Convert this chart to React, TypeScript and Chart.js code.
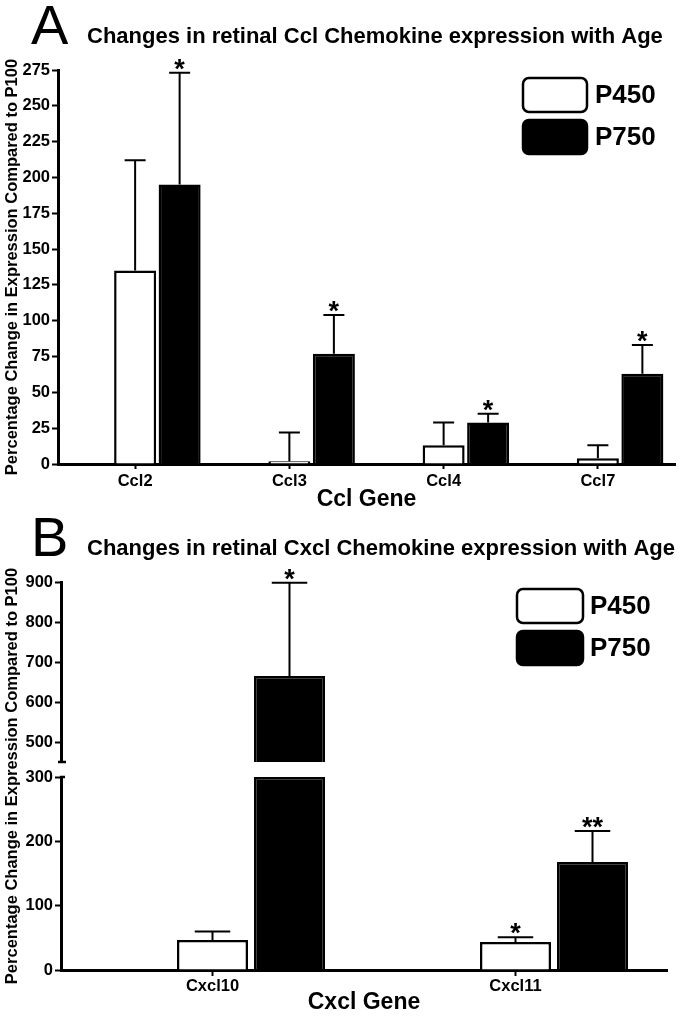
import React, { useEffect, useRef } from "react";
import { Chart, registerables } from "chart.js";
Chart.register(...registerables);

const FONT = '"Liberation Sans", Arial, Helvetica, sans-serif';

// ---------- Panel A data ----------
const cclGenes = ["Ccl2", "Ccl3", "Ccl4", "Ccl7"];
const cclP450 = [135, 2, 13, 4];
const cclP450ErrTop = [212, 22, 29, 13];
const cclP750 = [195, 77, 29, 63];
const cclP750ErrTop = [273, 104, 35, 83];
const cclP450Sig = ["", "", "", ""];
const cclP750Sig = ["*", "*", "*", "*"];
const cclYTicks = [0, 25, 50, 75, 100, 125, 150, 175, 200, 225, 250, 275];

// ---------- Panel B data ----------
const cxclGenes = ["Cxcl10", "Cxcl11"];
const cxclP450 = [46.5, 43.5];
const cxclP450ErrTop = [60, 51];
const cxclP750 = [665, 168];
const cxclP750ErrTop = [898, 216];
const cxclP450Sig = ["", "*"];
const cxclP750Sig = ["*", "**"];
const cxclLowTicks = [0, 100, 200, 300];
const cxclHighTicks = [500, 600, 700, 800, 900];
const cxclBreak = [300, 450];

const seriesNames = ["P450", "P750"];
const panelLetters = ["A", "B"];
const panelTitles = [
  "Changes in retinal Ccl Chemokine expression with Age",
  "Changes in retinal Cxcl Chemokine expression with Age",
];
const xTitles = ["Ccl Gene", "Cxcl Gene"];
const yTitle = "Percentage Change in Expression Compared to P100";

type Series = { datasetIndex: number; values: number[]; errs: number[]; sigs: string[] };

function makeDecor(cfg: {
  letter: string;
  title: string;
  xTitle: string;
  xTitleY: number;
  legendX: number;
  legendY: number;
  legendW: number;
  legendH: number;
  legendGap: number;
  legendTextX: number;
  series: Series[];
  toPixel: (chart: any, v: number) => number;
  extra?: (chart: any, ctx: CanvasRenderingContext2D) => void;
}) {
  return {
    id: "decor" + cfg.letter,
    afterDraw(chart: any) {
      const ctx: CanvasRenderingContext2D = chart.ctx;
      const ca = chart.chartArea;
      ctx.save();
      ctx.fillStyle = "#000";
      ctx.strokeStyle = "#000";
      // panel letter
      ctx.textAlign = "left";
      ctx.textBaseline = "alphabetic";
      ctx.font = `56px ${FONT}`;
      ctx.fillText(cfg.letter, 31, 44);
      // title
      ctx.font = `bold 22px ${FONT}`;
      ctx.fillText(cfg.title, 87, 43);
      // y title
      ctx.save();
      ctx.translate(12, (ca.top + ca.bottom) / 2);
      ctx.rotate(-Math.PI / 2);
      ctx.textAlign = "center";
      ctx.textBaseline = "middle";
      ctx.font = `bold 16.5px ${FONT}`;
      ctx.fillText(yTitle, 0, 0);
      ctx.restore();
      // x title
      ctx.textAlign = "center";
      ctx.textBaseline = "middle";
      ctx.font = `bold 23px ${FONT}`;
      ctx.fillText(cfg.xTitle, (ca.left + ca.right) / 2, cfg.xTitleY);
      // error bars + significance
      ctx.lineWidth = 2;
      for (const s of cfg.series) {
        const meta = chart.getDatasetMeta(s.datasetIndex);
        meta.data.forEach((el: any, i: number) => {
          const x = el.x;
          const w = el.width;
          const yv = cfg.toPixel(chart, s.values[i]);
          const ye = cfg.toPixel(chart, s.errs[i]);
          ctx.beginPath();
          ctx.moveTo(x, yv);
          ctx.lineTo(x, ye);
          ctx.moveTo(x - w / 4, ye);
          ctx.lineTo(x + w / 4, ye);
          ctx.stroke();
          if (s.sigs[i]) {
            ctx.textAlign = "center";
            ctx.textBaseline = "alphabetic";
            ctx.font = `bold 27px ${FONT}`;
            const m = ctx.measureText(s.sigs[i]);
            ctx.fillText(s.sigs[i], x, ye - 3 - m.actualBoundingBoxDescent);
          }
        });
      }
      // legend
      const fills = ["#fff", "#000"];
      ctx.lineWidth = 2.5;
      for (let k = 0; k < 2; k++) {
        const bx = cfg.legendX;
        const by = cfg.legendY + k * (cfg.legendH + cfg.legendGap);
        ctx.beginPath();
        (ctx as any).roundRect(bx, by, cfg.legendW, cfg.legendH, 6);
        ctx.fillStyle = fills[k];
        ctx.fill();
        ctx.stroke();
        ctx.fillStyle = "#000";
        ctx.textAlign = "left";
        ctx.textBaseline = "middle";
        ctx.font = `bold 26px ${FONT}`;
        ctx.fillText(chart.data.datasets[k + 1].label, cfg.legendTextX, by + cfg.legendH / 2 + 1);
      }
      if (cfg.extra) cfg.extra(chart, ctx);
      ctx.restore();
    },
  };
}

const tickFont = { family: FONT, size: 16.5, weight: "bold" as const };

function buildA(canvas: HTMLCanvasElement) {
  const decor = makeDecor({
    letter: panelLetters[0],
    title: panelTitles[0],
    xTitle: xTitles[0],
    xTitleY: 500,
    legendX: 523,
    legendY: 78,
    legendW: 64,
    legendH: 34,
    legendGap: 8,
    legendTextX: 595,
    series: [
      { datasetIndex: 1, values: cclP450, errs: cclP450ErrTop, sigs: cclP450Sig },
      { datasetIndex: 2, values: cclP750, errs: cclP750ErrTop, sigs: cclP750Sig },
    ],
    toPixel: (chart, v) => chart.scales.y.getPixelForValue(v),
  });
  return new Chart(canvas, {
    type: "bar",
    data: {
      labels: cclGenes,
      datasets: [
        { label: "", data: cclGenes.map(() => null), backgroundColor: "rgba(0,0,0,0)" },
        { label: seriesNames[0], data: cclP450, backgroundColor: "#fff", borderColor: "#000", borderWidth: 2.5 },
        { label: seriesNames[1], data: cclP750, backgroundColor: "#000", borderColor: "#000", borderWidth: 2.5 },
      ],
    },
    options: {
      responsive: false,
      animation: false,
      devicePixelRatio: 1,
      events: [],
      layout: { padding: { top: 70, right: 5, left: 0, bottom: 0 } },
      datasets: { bar: { categoryPercentage: 0.8655, barPercentage: 0.944 } },
      plugins: { legend: { display: false }, tooltip: { enabled: false }, title: { display: false } },
      scales: {
        x: {
          grid: { display: true, drawOnChartArea: false, offset: false, tickLength: 5, tickWidth: 2, tickColor: "#000" },
          border: { display: true, color: "#000", width: 3 },
          ticks: { color: "#000", font: tickFont, padding: 3, maxRotation: 0 },
          afterFit: (s: any) => { s.height = 48; },
        },
        y: {
          min: 0,
          max: 275,
          afterBuildTicks: (s: any) => { s.ticks = cclYTicks.map((v) => ({ value: v })); },
          grid: { drawOnChartArea: false, tickLength: 6, tickWidth: 2, tickColor: "#000" },
          border: { display: true, color: "#000", width: 3 },
          ticks: { color: "#000", font: tickFont, padding: 2 },
          afterFit: (s: any) => { s.width = 58; },
        },
      },
    } as any,
    plugins: [decor],
  });
}

function buildB(canvas: HTMLCanvasElement) {
  const decor = makeDecor({
    letter: panelLetters[1],
    title: panelTitles[1],
    xTitle: xTitles[1],
    xTitleY: 491,
    legendX: 517,
    legendY: 77,
    legendW: 66,
    legendH: 34,
    legendGap: 8,
    legendTextX: 590,
    series: [
      { datasetIndex: 1, values: cxclP450, errs: cxclP450ErrTop, sigs: cxclP450Sig },
      { datasetIndex: 2, values: cxclP750, errs: cxclP750ErrTop, sigs: cxclP750Sig },
    ],
    toPixel: (chart, v) =>
      v > cxclBreak[1]
        ? chart.scales.yHigh.getPixelForValue(v)
        : chart.scales.yLow.getPixelForValue(Math.min(v, cxclBreak[0])),
    extra: (chart, ctx) => {
      const ca = chart.chartArea;
      ctx.lineWidth = 2.5;
      ctx.beginPath();
      ctx.moveTo(ca.left - 3, chart.scales.yHigh.bottom);
      ctx.lineTo(ca.left + 5, chart.scales.yHigh.bottom);
      ctx.moveTo(ca.left - 1, chart.scales.yLow.top);
      ctx.lineTo(ca.left + 4, chart.scales.yLow.top);
      ctx.stroke();
    },
  });
  const yCommon = {
    type: "linear",
    position: "left",
    stack: "v",
    stacked: false,
    grid: { drawOnChartArea: false, tickLength: 6, tickWidth: 2, tickColor: "#000" },
    border: { display: true, color: "#000", width: 3 },
    ticks: { color: "#000", font: tickFont, padding: 2 },
    afterFit: (s: any) => { s.width = 61; },
  };
  return new Chart(canvas, {
    type: "bar",
    data: {
      labels: cxclGenes,
      datasets: [
        { label: "", data: cxclGenes.map(() => null), backgroundColor: "rgba(0,0,0,0)", yAxisID: "yLow" },
        { label: seriesNames[0], data: cxclP450, backgroundColor: "#fff", borderColor: "#000", borderWidth: 2.5, yAxisID: "yLow" },
        { label: seriesNames[1], data: cxclP750.map((v) => Math.min(v, cxclBreak[0])), backgroundColor: "#000", borderColor: "#000", borderWidth: 2.5, yAxisID: "yLow", stack: "p750" },
        { label: seriesNames[1], data: cxclP750.map((v) => (v > cxclBreak[1] ? [cxclBreak[1], v] : null)), backgroundColor: "#000", borderColor: "#000", borderWidth: 2.5, yAxisID: "yHigh", stack: "p750" },
      ],
    } as any,
    options: {
      responsive: false,
      animation: false,
      devicePixelRatio: 1,
      events: [],
      layout: { padding: { top: 70, right: 13, left: 0, bottom: 0 } },
      datasets: { bar: { categoryPercentage: 0.7624, barPercentage: 0.922 } },
      plugins: { legend: { display: false }, tooltip: { enabled: false }, title: { display: false } },
      scales: {
        x: {
          grid: { display: true, drawOnChartArea: false, offset: false, tickLength: 6, tickWidth: 2, tickColor: "#000" },
          border: { display: true, color: "#000", width: 3 },
          ticks: { color: "#000", font: tickFont, padding: 1, maxRotation: 0 },
          afterFit: (s: any) => { s.height = 51; },
        },
        yLow: {
          ...yCommon,
          stackWeight: 193,
          min: 0,
          max: cxclBreak[0],
          afterBuildTicks: (s: any) => { s.ticks = cxclLowTicks.map((v) => ({ value: v })); },
        },
        yGap: {
          type: "linear",
          position: "left",
          stack: "v",
          stackWeight: 15,
          min: 0,
          max: 1,
          grid: { display: false },
          border: { display: false },
          ticks: { display: false },
          afterFit: (s: any) => { s.width = 61; },
        },
        yHigh: {
          ...yCommon,
          stackWeight: 180,
          min: cxclBreak[1],
          max: 900,
          afterBuildTicks: (s: any) => { s.ticks = cxclHighTicks.map((v) => ({ value: v })); },
        },
      },
    } as any,
    plugins: [decor],
  });
}

function ChartCanvas({ width, height, build }: { width: number; height: number; build: (c: HTMLCanvasElement) => Chart }) {
  const ref = useRef<HTMLCanvasElement>(null);
  useEffect(() => {
    const chart = build(ref.current as HTMLCanvasElement);
    return () => chart.destroy();
  }, []);
  return <canvas ref={ref} width={width} height={height} style={{ display: "block", width, height }} />;
}

export default function App() {
  return (
    <div style={{ position: "absolute", left: 0, top: 0, width: 680, height: 1021, background: "#fff" }}>
      <ChartCanvas width={680} height={512} build={buildA} />
      <ChartCanvas width={680} height={509} build={buildB} />
    </div>
  );
}
